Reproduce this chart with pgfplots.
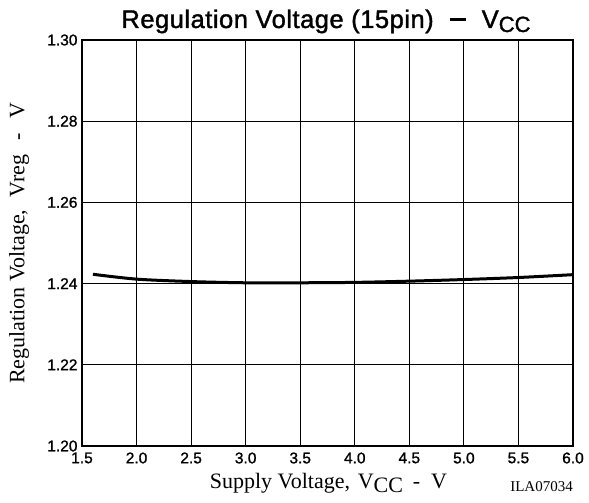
\documentclass[border=0pt]{standalone}
\usepackage{fontspec}
\setmainfont{Liberation Serif}
\newfontfamily\hv[FakeBold=1.2]{Liberation Sans}
\newfontfamily\hvt[FakeBold=1.5, LetterSpace=2]{Liberation Sans}
\newfontfamily\hvs[FakeBold=1.5]{Liberation Sans}
\usepackage{pgfplots}
\pgfplotsset{compat=1.18}
\begin{document}
\begin{tikzpicture}
\begin{axis}[
  at={(0pt,0pt)}, anchor=south west,
  scale only axis, width=491pt, height=406pt,
  xmin=1.5, xmax=6, ymin=1.2, ymax=1.3,
  xtick={1.5,2.0,2.5,3.0,3.5,4.0,4.5,5.0,5.5,6.0},
  ytick={1.20,1.22,1.24,1.26,1.28,1.30},
  xticklabels={1.5,2.0,2.5,3.0,3.5,4.0,4.5,5.0,5.5,6.0},
  yticklabels={1.20,1.22,1.24,1.26,1.28,1.30},
  xticklabel style={yshift=-3pt},
  yticklabel style={xshift=-1pt},
  tick label style={font=\hv\fontsize{15.5}{18}\selectfont},
  major tick length=0pt,
  grid=major,
  major grid style={black, line width=0.8pt},
  axis line style={black, line width=1.4pt},
  clip=false,
]
\addplot[black, line width=3pt, smooth] coordinates {
 (1.6,1.2423) (2.0,1.2411) (2.5,1.2405) (3.0,1.2402) (3.5,1.2402)
 (4.0,1.2403) (4.5,1.2406) (5.0,1.2410) (5.5,1.2415) (6.0,1.2422)
};
\end{axis}
\node[anchor=base, inner sep=0pt] at (244pt,418pt) {\hvt\fontsize{25.5}{25.5}\selectfont Regulation Voltage (15pin)\hspace{16pt}\rule[6.5pt]{16pt}{3.4pt}\hspace{16pt}V\hvs\fontsize{22}{22}\selectfont\raisebox{-4pt}{CC}};
\node[anchor=base, inner sep=0pt, font=\fontsize{22}{22}\selectfont] at (246.5pt,-43pt) {Supply Voltage,\hspace{0.35em}V\raisebox{-0.3ex}{CC}\hspace{0.45em}-\hspace{0.5em}V};
\node[anchor=base east, inner sep=0pt, font=\fontsize{15}{15}\selectfont] at (491pt,-46pt) {ILA07034};
\node[rotate=90, anchor=base, inner sep=0pt, font=\fontsize{22}{22}\selectfont] at (-57.5pt,202.5pt) {Regulation Voltage,\hspace{0.55em}Vreg\hspace{0.65em}-\hspace{0.65em}V};
\useasboundingbox (-82pt,-57pt) rectangle (507pt,446pt);
\end{tikzpicture}
\end{document}
